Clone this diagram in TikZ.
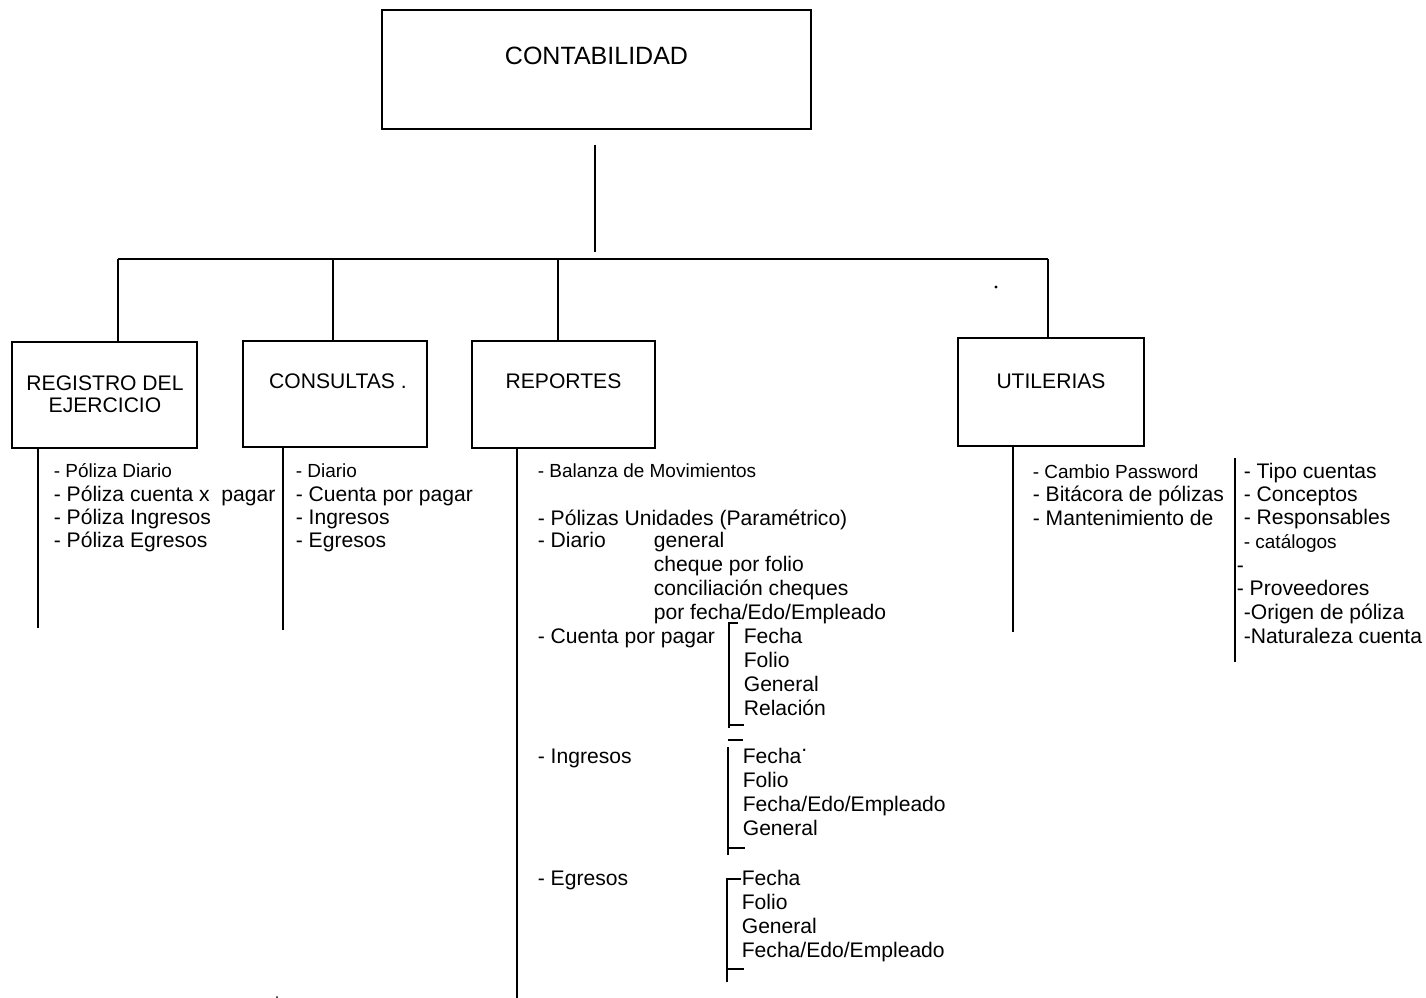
\documentclass[tikz,border=0pt]{standalone}
\usepackage{fontspec}
\setmainfont{Liberation Sans}

\begin{document}
\begin{tikzpicture}[x=0.025cm, y=-0.025cm, line width=1.2pt,
    box/.style={draw, rectangle, inner sep=0pt, outer sep=0pt},
    title/.style={font=\fontsize{15}{18}\selectfont, anchor=base, inner sep=0pt},
    item/.style={font=\fontsize{15}{18}\selectfont, anchor=base west, inner sep=0pt},
    itemsm/.style={font=\fontsize{13.5}{16}\selectfont, anchor=base west, inner sep=0pt}]

        \useasboundingbox (0,0) rectangle (1426,998);

        % Top: main box
        \node[box, minimum width=10.725cm, minimum height=2.975cm] (conta) at (596.5,69.5) {};
        \node[title, font=\fontsize{17.8}{20}\selectfont] (contaTxt) at (596.5,65) {CONTABILIDAD};

        % Stem and bus
        \coordinate (stemTop) at (595,145);
        \coordinate (stemBot) at (595,252);
        \draw (stemTop) -- (stemBot);

        \coordinate (busReg) at (118,259);
        \coordinate (busCons) at (333,259);
        \coordinate (busRep) at (558,259);
        \coordinate (busUtil) at (1048,259);
        \draw (busReg) -- (busUtil);

        % Second row of boxes
        \node[box, minimum width=4.625cm, minimum height=2.65cm] (reg) at (104.5,395) {};
        \node[box, minimum width=4.6cm, minimum height=2.65cm] (cons) at (335,394) {};
        \node[box, minimum width=4.575cm, minimum height=2.675cm] (rep) at (563.5,394.5) {};
        \node[box, minimum width=4.65cm, minimum height=2.7cm] (util) at (1051,392) {};

        \draw (busReg) -- (busReg |- reg.north);
        \draw (busCons) -- (busCons |- cons.north);
        \draw (busRep) -- (busRep |- rep.north);
        \draw (busUtil) -- (busUtil |- util.north);

        \node[title] (regTxtA) at (105,390) {REGISTRO DEL};
        \node[title] (regTxtB) at (105,412) {EJERCICIO};
        \node[title] (consTxt) at (338,388) {CONSULTAS .};
        \node[title] (repTxt) at (563.5,388) {REPORTES};
        \node[title] (utilTxt) at (1051,388) {UTILERIAS};

        % Lines down from the boxes
        \coordinate (regEnd) at (38,628);
        \coordinate (consEnd) at (283,630);
        \coordinate (repEnd) at (517,998);
        \coordinate (utilEnd) at (1013,632);
        \draw (regEnd |- reg.south) -- (regEnd);
        \draw (consEnd |- cons.south) -- (consEnd);
        \draw (repEnd |- rep.south) -- (repEnd);
        \draw (utilEnd |- util.south) -- (utilEnd);

        % Registro del ejercicio
        \node[itemsm] (regItem0) at (53,477) {- Póliza Diario};
        \foreach \y/\txt [count=\i] in {501/{- Póliza cuenta x\ \ pagar}, 524/{- Póliza Ingresos}, 547/{- Póliza Egresos}} {
            \node[item] (regItem\i) at (53,\y) {\txt};
        }

        % Consultas
        \node[itemsm] (consItem0) at (295,477) {- Diario};
        \foreach \y/\txt [count=\i] in {501/{- Cuenta por pagar}, 524/{- Ingresos}, 547/{- Egresos}} {
            \node[item] (consItem\i) at (295,\y) {\txt};
        }

        % Reportes
        \node[itemsm] (repBal) at (537,477) {- Balanza de Movimientos};
        \node[item] (repPol) at (537,525) {- Pólizas Unidades (Paramétrico)};
        \node[item] (repDia) at (537,547) {- Diario};
        \foreach \y/\txt [count=\i] in {547/{general}, 571/{cheque por folio}, 595/{conciliación cheques}, 619/{por fecha/Edo/Empleado}} {
            \node[item] (diaSub\i) at (653,\y) {\txt};
        }

        \node[item] (repCpp) at (537,643) {- Cuenta por pagar};
        \foreach \y/\txt [count=\i] in {643/{Fecha}, 667/{Folio}, 691/{General}, 715/{Relación}} {
            \node[item] (cppSub\i) at (743,\y) {\txt};
        }

        \node[item] (repIng) at (537,763) {- Ingresos};
        \foreach \y/\txt [count=\i] in {763/{Fecha\raisebox{1ex}{.}}, 787/{Folio}, 811/{Fecha/Edo/Empleado}, 835/{General}} {
            \node[item] (ingSub\i) at (742,\y) {\txt};
        }

        \node[item] (repEgr) at (537,885) {- Egresos};
        \foreach \y/\txt [count=\i] in {885/{Fecha}, 909/{Folio}, 933/{General}, 957/{Fecha/Edo/Empleado}} {
            \node[item] (egrSub\i) at (741,\y) {\txt};
        }

        % Brackets of the sub lists
        \begin{scope}[line width=1pt]
            \draw (738,623) -- (729,623) -- (729,728);
            \draw (729,725) -- (744,725);
            \draw (728,740) -- (743,740);
            \draw (728,747) -- (728,855);
            \draw (728,848) -- (745,848);
            \draw (741,879) -- (727,879) -- (727,982);
            \draw (727,969) -- (744,969);
        \end{scope}

        % Utilerias
        \node[itemsm] (utilItem0) at (1032,478) {- Cambio Password};
        \foreach \y/\txt [count=\i] in {501/{- Bitácora de pólizas}, 525/{- Mantenimiento de}} {
            \node[item] (utilItem\i) at (1032,\y) {\txt};
        }

        \draw (1235,458) -- (1235,662);
        \foreach \y/\txt [count=\i] in {478/{- Tipo cuentas}, 501/{- Conceptos}, 524/{- Responsables}} {
            \node[item] (catItem\i) at (1243,\y) {\txt};
        }
        \node[itemsm] (catItem4) at (1243,548) {- catálogos};
        \node[item] (catItem5) at (1236,572) {-};
        \node[item] (catItem6) at (1236,595) {- Proveedores};
        \node[item] (catItem7) at (1243,619) {-Origen de póliza};
        \node[item] (catItem8) at (1243,643) {-Naturaleza cuenta};

        % Stray marks
        \fill (996,287) circle (1.6);
        \fill (277,997) circle (1);

\end{tikzpicture}
\end{document}
